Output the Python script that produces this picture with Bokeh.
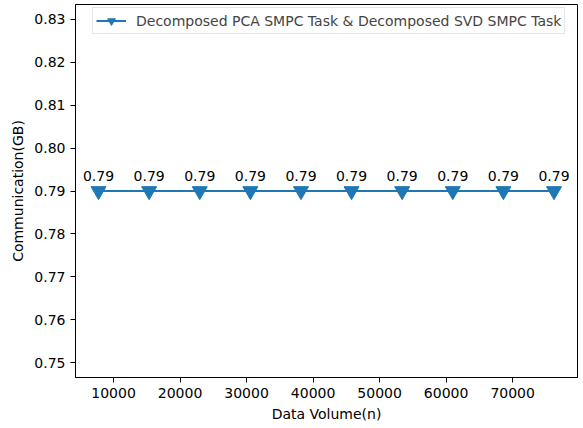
from bokeh.plotting import figure
from bokeh.models import Range1d, FixedTicker, Legend, LegendItem, PrintfTickFormatter
from bokeh.embed import file_html
from bokeh.resources import INLINE
from bokeh.core.properties import value

# Data
data_volume = [7740, 15350, 22960, 30570, 38180, 45780, 53390, 61000, 68610, 76220]
communication = [0.79, 0.79, 0.79, 0.79, 0.79, 0.79, 0.79, 0.79, 0.79, 0.79]
labels = ["0.79", "0.79", "0.79", "0.79", "0.79", "0.79", "0.79", "0.79", "0.79", "0.79"]
x_ticks = [10000, 20000, 30000, 40000, 50000, 60000, 70000]
y_ticks = [0.75, 0.76, 0.77, 0.78, 0.79, 0.80, 0.81, 0.82, 0.83]
series_name = "Decomposed PCA SMPC Task & Decomposed SVD SMPC Task"

FONT = "DejaVu Sans"
BLUE = "#1f77b4"
FS = "14px"

p = figure(width=578, height=424, output_backend="svg", toolbar_location=None,
           x_range=Range1d(4280, 79750), y_range=Range1d(0.74655, 0.83345),
           min_border_left=75, min_border_right=1, min_border_top=4, min_border_bottom=45)

p.xgrid.visible = False
p.ygrid.visible = False
p.outline_line_color = "black"
p.outline_line_width = 1
p.outline_line_alpha = 1.0

ln = p.line(data_volume, communication, line_color=BLUE, line_width=2)
mk = p.scatter(data_volume, communication, marker="inverted_triangle", size=15,
               fill_color=BLUE, line_color=BLUE)
p.text(data_volume, communication, text=labels, text_align="center", text_baseline="alphabetic",
       y_offset=-15, text_font=value(FONT), text_font_size=FS, text_color="black")

for ax in (p.xaxis[0], p.yaxis[0]):
    ax.major_label_text_font = FONT
    ax.major_label_text_font_size = FS
    ax.major_label_text_color = "black"
    ax.axis_label_text_font = FONT
    ax.axis_label_text_font_size = FS
    ax.axis_label_text_font_style = "normal"
    ax.axis_label_text_color = "black"
    ax.minor_tick_line_color = None
    ax.major_tick_out = 5
    ax.major_tick_in = 0
    ax.axis_line_color = "black"
    ax.major_tick_line_color = "black"

p.xaxis.ticker = FixedTicker(ticks=x_ticks)
p.yaxis.ticker = FixedTicker(ticks=y_ticks)
p.yaxis.formatter = PrintfTickFormatter(format="%.2f")
p.xaxis.axis_label = "Data Volume(n)"
p.yaxis.axis_label = "Communication(GB)"
p.xaxis.axis_label_standoff = 5
p.yaxis.axis_label_standoff = 5
p.xaxis.major_label_standoff = 5
p.yaxis.major_label_standoff = 5

legend = Legend(items=[LegendItem(label=series_name, renderers=[ln, mk])],
                location=(17, 343))
legend.label_text_font = FONT
legend.label_text_font_size = FS
legend.border_line_color = "#cccccc"
legend.border_line_width = 1
legend.glyph_width = 30
legend.glyph_height = 19
legend.padding = 3
legend.margin = 0
legend.spacing = 0
legend.label_standoff = 10
legend.background_fill_alpha = 0.8
p.add_layout(legend)

open("out.html", "w").write(file_html(p, INLINE))
